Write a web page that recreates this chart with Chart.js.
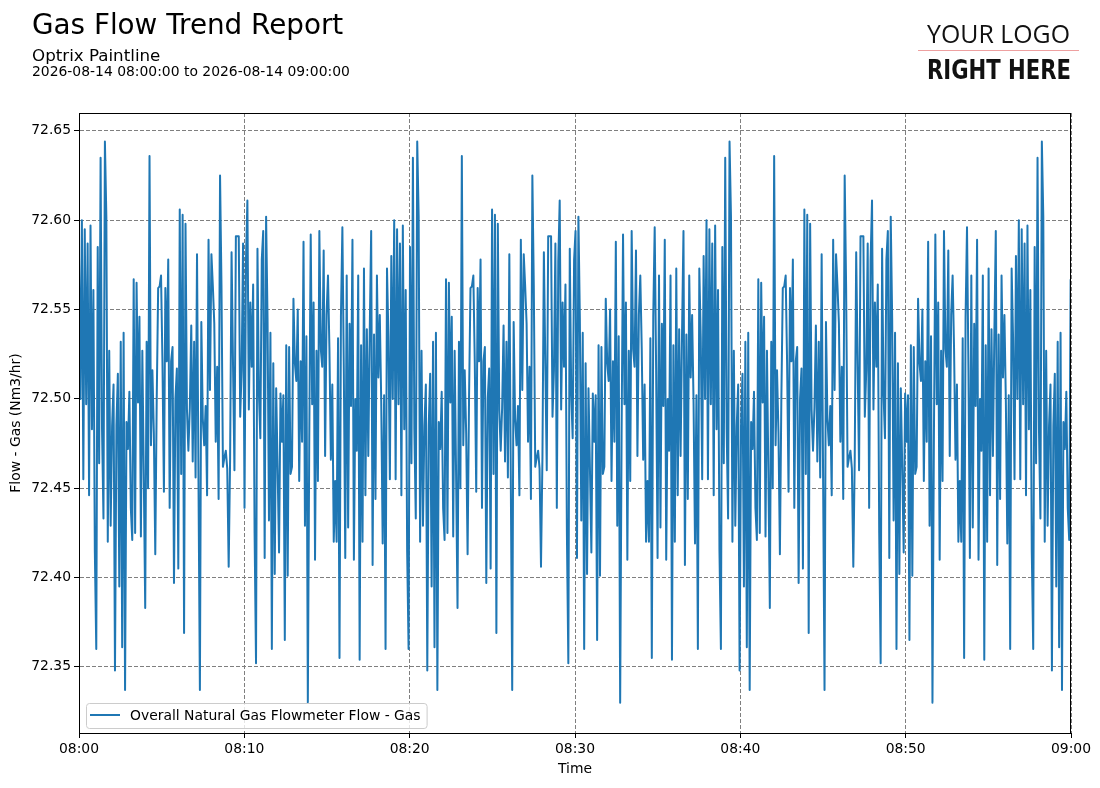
<!DOCTYPE html>
<html>
<head>
<meta charset="utf-8">
<title>Gas Flow Trend Report</title>
<script src="https://cdn.jsdelivr.net/npm/chart.js@4.4.1/dist/chart.umd.min.js"></script>
<style>
  html, body { margin: 0; padding: 0; background: #fff; }
  #page { position: relative; width: 1100px; height: 788px; overflow: hidden; font-family: "DejaVu Sans", sans-serif; color: #000; }
  #flowChart { position: absolute; left: 0; top: 0; }
  .hdr { position: absolute; left: 32px; white-space: nowrap; line-height: 1; }
  #title { top: 11px; font-size: 27.8px; }
  #subtitle { top: 47px; font-size: 16.7px; }
  #range { top: 65px; font-size: 13.9px; }
  .logo { position: absolute; white-space: nowrap; line-height: 1; color: #111; }
  #logoTop { left: 927px; top: 20.6px; font-family: "Open Sans", "Lato", sans-serif; font-weight: 400; font-size: 25.6px; }
  #logoRule { position: absolute; left: 918px; top: 50px; width: 161px; height: 1px; background: #eea0a0; }
  #logoBottom { left: 927px; top: 57px; font-family: "Liberation Sans Narrow", "DejaVu Sans Condensed", sans-serif; font-weight: bold; font-size: 26.5px; }
</style>
</head>
<body>
<div id="page">
  <canvas id="flowChart" width="1100" height="788"></canvas>
  <div class="hdr" id="title">Gas Flow Trend Report</div>
  <div class="hdr" id="subtitle">Optrix Paintline</div>
  <div class="hdr" id="range">2026-08-14 08:00:00 to 2026-08-14 09:00:00</div>
  <div class="logo" id="logoTop">YOUR LOGO</div>
  <div id="logoRule"></div>
  <div class="logo" id="logoBottom">RIGHT HERE</div>
</div>
<script>
// Оси
const timeTicks = [0, 10, 20, 30, 40, 50, 60];
const timeLabels = ['08:00', '08:10', '08:20', '08:30', '08:40', '08:50', '09:00'];
const flowTicks = [72.35, 72.40, 72.45, 72.50, 72.55, 72.60, 72.65];
const seriesName = 'Overall Natural Gas Flowmeter Flow - Gas';

const cycleMinutes = 18.89;
const flowCycle = [
  72.580, 72.500,
  72.600, 72.455, 72.595, 72.497, 72.587, 72.446, 72.597, 72.483, 72.561, 72.415,
  72.360, 72.585, 72.464, 72.635, 72.483, 72.433, 72.644, 72.602, 72.420, 72.527,
  72.429, 72.485, 72.508, 72.348, 72.485, 72.514, 72.395, 72.532, 72.361, 72.537,
  72.337, 72.487, 72.472, 72.504, 72.439, 72.421, 72.567, 72.425, 72.565, 72.498,
  72.546, 72.423, 72.527, 72.458, 72.383, 72.532, 72.450, 72.636, 72.474, 72.516,
  72.481, 72.413, 72.500, 72.562, 72.563, 72.569, 72.520, 72.448, 72.562, 72.521,
  72.578, 72.439, 72.521, 72.529, 72.397, 72.500, 72.517, 72.405, 72.606, 72.458,
  72.603, 72.369, 72.598, 72.494, 72.471, 72.495, 72.541, 72.465, 72.532, 72.456,
  72.581, 72.457, 72.337, 72.543, 72.489, 72.474, 72.496, 72.446, 72.589, 72.505,
  72.581, 72.563, 72.542, 72.476, 72.518, 72.444, 72.625, 72.563, 72.462, 72.467,
  72.471, 72.461, 72.406, 72.467, 72.582, 72.520, 72.460, 72.591, 72.591, 72.591,
  72.490, 72.516, 72.587, 72.439, 72.577, 72.611,
  72.494, 72.554, 72.518, 72.564, 72.425, 72.352, 72.584, 72.503, 72.478, 72.578,
  72.594, 72.411, 72.602, 72.545, 72.432, 72.537, 72.360, 72.520, 72.402, 72.506,
  72.461, 72.414, 72.503, 72.476, 72.502, 72.365, 72.530, 72.401, 72.529, 72.458,
  72.462, 72.556, 72.520, 72.510, 72.550, 72.454, 72.521, 72.476, 72.588, 72.429,
  72.535, 72.330, 72.479, 72.592, 72.497, 72.554, 72.410, 72.527, 72.454, 72.594,
  72.528, 72.518, 72.583, 72.468, 72.547, 72.569, 72.528, 72.466, 72.508, 72.420,
  72.454, 72.420, 72.534, 72.355, 72.546, 72.596, 72.516, 72.411, 72.569, 72.428,
  72.542, 72.496, 72.589, 72.410, 72.500, 72.471, 72.569, 72.354, 72.530, 72.420,
  72.573, 72.446, 72.539, 72.468, 72.537, 72.594, 72.407, 72.536, 72.444, 72.569,
  72.512, 72.547, 72.498, 72.419, 72.502, 72.360, 72.573, 72.534, 72.455
];

// one point per sample over the hour
function buildPoints() {
  const step = cycleMinutes / flowCycle.length;
  const pts = [];
  for (let i = 0; i * step <= 60; i++) {
    pts.push({ x: i * step, y: flowCycle[i % flowCycle.length] });
  }
  return pts;
}

const tickFont = { family: 'DejaVu Sans', size: 13.9 };

// рамка и легенда внутри графика
const frameAndLegend = {
  id: 'frameAndLegend',
  afterDraw(chart) {
    const { ctx, chartArea: a } = chart;
    ctx.save();
    ctx.strokeStyle = '#000';
    ctx.lineWidth = 1;
    ctx.strokeRect(a.left + 0.5, a.top + 0.5, a.right - a.left - 1, a.bottom - a.top);

    ctx.font = '13.9px "DejaVu Sans"';
    const x = a.left + 7, y = a.bottom - 30, h = 25;
    const textX = x + 44;
    const w = textX - x + ctx.measureText(seriesName).width + 6;
    ctx.beginPath();
    ctx.roundRect(x + 0.5, y + 0.5, w, h, 3);
    ctx.fillStyle = 'rgba(255,255,255,0.8)';
    ctx.fill();
    ctx.strokeStyle = '#cccccc';
    ctx.stroke();

    ctx.beginPath();
    ctx.moveTo(x + 4, y + 12);
    ctx.lineTo(x + 34, y + 12);
    ctx.strokeStyle = '#1f77b4';
    ctx.lineWidth = 2;
    ctx.stroke();

    ctx.fillStyle = '#000';
    ctx.textBaseline = 'middle';
    ctx.fillText(seriesName, textX, y + 13);
    ctx.restore();
  }
};

function drawChart() {
  const ctx = document.getElementById('flowChart').getContext('2d');
  new Chart(ctx, {
    type: 'line',
    data: {
      datasets: [{
        label: seriesName,
        data: buildPoints(),
        borderColor: '#1f77b4',
        borderWidth: 2,
        borderJoinStyle: 'round',
        pointRadius: 0,
        tension: 0,
        fill: false
      }]
    },
    options: {
      responsive: false,
      animation: false,
      events: [],
      layout: { padding: { left: 0, right: 29, top: 113, bottom: 0 } },
      plugins: {
        legend: { display: false },
        tooltip: { enabled: false }
      },
      scales: {
        x: {
          type: 'linear',
          min: 0,
          max: 60,
          afterFit: s => { s.height = 55; },
          afterBuildTicks: s => { s.ticks = timeTicks.map(v => ({ value: v })); },
          ticks: {
            autoSkip: false,
            maxRotation: 0,
            padding: 3,
            color: '#000',
            font: tickFont,
            callback: v => timeLabels[timeTicks.indexOf(v)]
          },
          grid: { color: '#7f7f7f', lineWidth: 1, tickColor: '#000', tickLength: 5 },
          border: { display: true, color: '#000', dash: [4, 2] },
          title: { display: true, text: 'Time', color: '#000', font: tickFont, padding: { top: 0, bottom: 10 } }
        },
        y: {
          min: 72.313,
          max: 72.660,
          afterFit: s => { s.width = 79; },
          afterBuildTicks: s => { s.ticks = flowTicks.map(v => ({ value: v })); },
          ticks: {
            padding: 3,
            color: '#000',
            font: tickFont,
            callback: v => v.toFixed(2)
          },
          grid: { color: '#7f7f7f', lineWidth: 1, tickColor: '#000', tickLength: 5 },
          border: { display: true, color: '#000', dash: [4, 2] },
          title: { display: true, text: 'Flow - Gas (Nm3/hr)', color: '#000', font: tickFont, padding: { top: 8, bottom: 0 } }
        }
      }
    },
    plugins: [frameAndLegend]
  });
}

// подогнать ширину логотипа
function fitWidth(id, width) {
  const el = document.getElementById(id);
  const k = width / el.getBoundingClientRect().width;
  el.style.transformOrigin = 'left top';
  el.style.transform = `scaleX(${k})`;
}

drawChart();
fitWidth('logoTop', 143);
fitWidth('logoBottom', 144);
</script>
</body>
</html>
